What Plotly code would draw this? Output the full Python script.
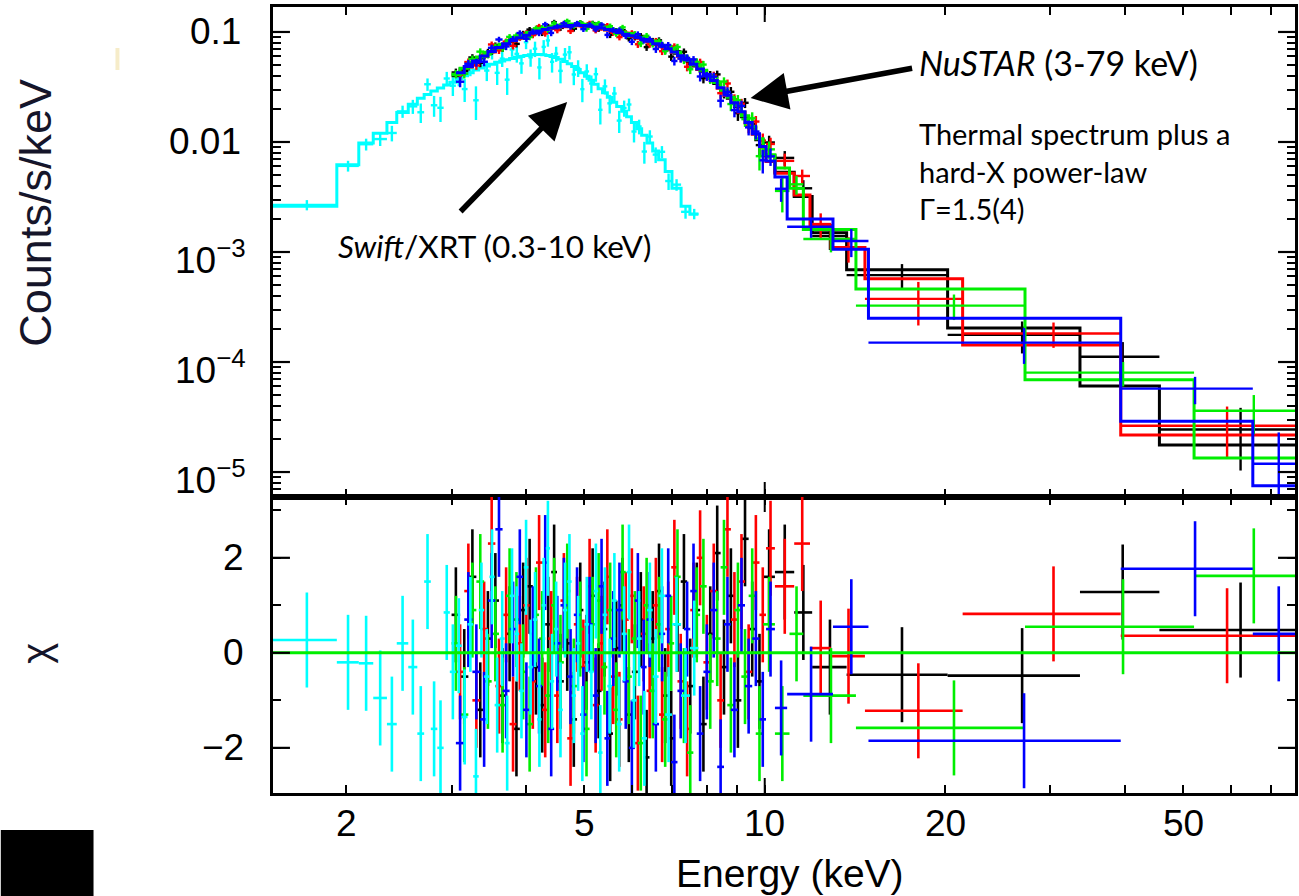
import math
import plotly.graph_objects as go

# ---------------- data ----------------
# Swift/XRT spectrum: bin edges (keV), folded model (counts/s/keV), relative errors, chi residuals
swift_edges = [1.51, 1.93, 2.10, 2.22, 2.34, 2.43, 2.54, 2.63, 2.70, 2.77,
               2.84, 2.91, 2.98, 3.05, 3.12, 3.19, 3.26, 3.33, 3.40, 3.47,
               3.54, 3.61, 3.68, 3.75, 3.82, 3.89, 3.96, 4.03, 4.10, 4.17,
               4.24, 4.31, 4.38, 4.45, 4.52, 4.60, 4.68, 4.76, 4.84, 4.92,
               5.00, 5.09, 5.18, 5.27, 5.36, 5.46, 5.56, 5.66, 5.77, 5.88,
               5.99, 6.11, 6.23, 6.36, 6.50, 6.65, 6.82, 7.00, 7.25, 7.50,
               7.75]
swift_model = [2.6e-3, 6.2e-3, 9.8e-3, 1.2e-2, 1.5e-2, 1.85e-2, 2.2e-2, 2.5e-2, 2.7e-2, 2.9e-2,
               3.1e-2, 3.3e-2, 3.5e-2, 3.75e-2, 4.0e-2, 4.25e-2, 4.5e-2, 4.7e-2, 4.9e-2, 5.1e-2,
               5.3e-2, 5.45e-2, 5.6e-2, 5.75e-2, 5.9e-2, 6.0e-2, 6.1e-2, 6.2e-2, 6.25e-2, 6.25e-2,
               6.2e-2, 6.1e-2, 6.0e-2, 5.85e-2, 5.65e-2, 5.4e-2, 5.15e-2, 4.85e-2, 4.55e-2, 4.25e-2,
               3.95e-2, 3.65e-2, 3.35e-2, 3.05e-2, 2.8e-2, 2.55e-2, 2.3e-2, 2.1e-2, 1.9e-2, 1.7e-2,
               1.5e-2, 1.32e-2, 1.15e-2, 9.8e-3, 8.3e-3, 6.9e-3, 5.4e-3, 3.8e-3, 2.6e-3, 2.2e-3]
swift_relerr = [0.11, 0.11, 0.12, 0.12, 0.13, 0.13, 0.14, 0.15, 0.16, 0.16,
                0.17, 0.17, 0.18, 0.17, 0.18, 0.17, 0.18, 0.17, 0.18, 0.17,
                0.18, 0.17, 0.18, 0.17, 0.18, 0.17, 0.18, 0.17, 0.18, 0.17,
                0.18, 0.17, 0.18, 0.17, 0.18, 0.17, 0.18, 0.17, 0.18, 0.17,
                0.18, 0.17, 0.18, 0.17, 0.18, 0.17, 0.18, 0.17, 0.18, 0.17,
                0.17, 0.16, 0.16, 0.16, 0.15, 0.15, 0.14, 0.13, 0.12, 0.11]
swift_chi = [0.27, -0.2, -0.22, -0.95, -1.5, 0.2, -0.3, -1.7, 1.5, -1.6,
             -2.0, 0.85, -0.4, 0.15, -1.35, 0.6, -2.6, 0.9, -0.5, 1.6,
             -1.1, 0.3, -1.9, 1.2, 0.4, -0.8, 1.8, -0.3, 0.7, -1.4,
             1.0, 2.2, -0.6, 0.5, -1.2, 0.9, 1.5, -0.9, 0.2, -1.7,
             0.6, -0.4, 1.3, -2.1, 0.8, -0.7, 1.1, -1.5, 0.4, 1.7,
             -1.0, 0.3, -1.8, 0.9, -0.5, 1.2, -1.3, 0.6, -0.9, 0.1]

# NuSTAR fine binning 3-10.4 keV: grid A (black, green) and grid B (red, blue)
nu_edges_a = [3.00, 3.10, 3.20, 3.30, 3.40, 3.50, 3.60, 3.70, 3.80, 3.90,
              4.00, 4.10, 4.20, 4.30, 4.40, 4.50, 4.62, 4.74, 4.86, 4.98,
              5.10, 5.22, 5.34, 5.46, 5.58, 5.72, 5.86, 6.00, 6.14, 6.28,
              6.42, 6.58, 6.74, 6.90, 7.06, 7.24, 7.42, 7.60, 7.80, 8.00,
              8.22, 8.44, 8.66, 8.90, 9.14, 9.40, 9.66, 9.94, 10.40]
nu_model_a = [0.040, 0.046, 0.052, 0.058, 0.064, 0.070, 0.076, 0.082, 0.087, 0.092,
              0.097, 0.101, 0.105, 0.108, 0.111, 0.113, 0.115, 0.116, 0.116, 0.115,
              0.113, 0.111, 0.108, 0.105, 0.102, 0.098, 0.095, 0.092, 0.088, 0.085,
              0.081, 0.077, 0.073, 0.069, 0.064, 0.059, 0.054, 0.049, 0.044, 0.039,
              0.034, 0.029, 0.025, 0.021, 0.017, 0.0135, 0.0105, 0.0075]
nu_edges_b = [3.05, 3.15, 3.25, 3.35, 3.45, 3.55, 3.65, 3.75, 3.85, 3.95,
              4.05, 4.15, 4.25, 4.35, 4.45, 4.56, 4.68, 4.80, 4.92, 5.04,
              5.16, 5.28, 5.40, 5.52, 5.65, 5.79, 5.93, 6.07, 6.21, 6.35,
              6.50, 6.66, 6.82, 6.98, 7.15, 7.33, 7.51, 7.70, 7.90, 8.11,
              8.33, 8.55, 8.78, 9.02, 9.27, 9.53, 9.80, 10.05, 10.40]
nu_model_b = [0.043, 0.049, 0.055, 0.061, 0.067, 0.073, 0.079, 0.0845, 0.0895, 0.0945,
              0.099, 0.103, 0.1065, 0.1095, 0.112, 0.114, 0.1155, 0.116, 0.1155, 0.114,
              0.112, 0.1095, 0.1065, 0.1035, 0.100, 0.0965, 0.0935, 0.090, 0.0865, 0.083,
              0.079, 0.075, 0.071, 0.0665, 0.0615, 0.0565, 0.0515, 0.0465, 0.0415, 0.0365,
              0.0315, 0.027, 0.023, 0.019, 0.0152, 0.012, 0.0092, 0.0068]
nu_relerr = [0.09, 0.085, 0.08, 0.08, 0.075, 0.07, 0.07, 0.065, 0.065, 0.06,
             0.06, 0.06, 0.06, 0.06, 0.06, 0.06, 0.055, 0.055, 0.055, 0.055,
             0.055, 0.055, 0.06, 0.06, 0.06, 0.06, 0.06, 0.065, 0.065, 0.065,
             0.07, 0.07, 0.07, 0.075, 0.075, 0.08, 0.08, 0.085, 0.09, 0.095,
             0.10, 0.11, 0.12, 0.13, 0.14, 0.16, 0.18, 0.20]
nu_const_black = 1.00
nu_const_red = 0.98
nu_const_green = 1.02
nu_const_blue = 0.99

chi_black = [0.8, -0.5, 1.6, -1.2, 0.3, 1.1, -0.9, 0.4, -1.6, 0.9,
             1.4, -0.3, -1.1, 0.6, 1.7, -0.6, 0.2, -1.4, 0.9, -0.2,
             1.2, -0.8, 0.5, -1.7, 0.1, 1.0, -1.3, -0.4, 0.7, -2.2,
             0.3, 1.3, -0.9, -1.8, 0.6, 1.5, -0.7, 0.9, -1.5, 0.4,
             2.1, -0.3, 1.2, -1.0, 2.4, 0.5, -0.6, 1.6]
chi_red = [-0.4, 1.3, -1.0, 0.5, 2.3, -0.7, 0.8, -1.5, 0.2, 1.0,
           -0.6, 1.9, -1.2, 0.3, -0.9, 1.1, -1.8, 0.6, -0.3, 1.4,
           -1.1, 0.2, 1.6, -0.5, -1.4, 0.7, 1.2, -1.9, 0.4, -0.8,
           1.0, -1.3, 0.5, 1.8, -0.6, -1.6, 0.9, 2.0, -0.2, 1.3,
           -1.0, 2.6, 0.7, 1.5, -0.4, 1.9, 0.8, 2.2]
chi_green = [0.2, -1.3, 0.9, 1.5, -0.6, 0.4, -1.1, 1.2, 0.7, -0.4,
             -1.5, 0.8, 0.3, -0.9, 1.0, -0.2, 1.3, -0.7, 0.5, -1.6,
             0.6, 1.1, -0.3, 0.9, -1.2, 1.7, -0.5, 0.3, -1.9, 1.0,
             -0.8, 0.6, -1.4, 0.2, 1.6, -0.9, -2.1, 0.8, 1.4, -0.6,
             0.3, 1.8, -1.1, 0.9, -0.5, 1.2, -1.7, 0.6]
chi_blue = [-1.9, 0.7, -0.4, -1.4, 1.1, 2.6, -0.8, 0.5, 1.6, -1.2,
            0.4, -0.7, 1.9, -1.6, 0.2, 1.0, -0.5, 0.8, -1.3, 0.6,
            -0.9, 1.4, -1.8, 0.3, 0.9, -0.6, -2.0, 1.1, -0.3, 0.7,
            -1.5, 0.4, 1.2, -2.3, -0.8, 0.5, 1.3, -1.7, -0.4, 0.9,
            -2.4, 0.6, -1.2, 1.0, -0.7, 0.3, -1.4, 0.5]

# NuSTAR wide high-energy bins (per module)
bk_hi_edges = [10.4, 11.2, 12.0, 13.7, 20.2, 33.6, 45.6, 79.0]
bk_hi_model = [5.3e-3, 3.2e-3, 1.5e-3, 6.9e-4, 2.04e-4, 6.05e-5, 1.76e-5]
bk_hi_err = [1.1e-3, 7.0e-4, 3.5e-4, 1.6e-4, 5.7e-5, 4.0e-5, 1.4e-5]
bk_hi_chi = [1.7, 0.85, -0.3, -0.46, -0.48, 1.28, 0.48]

rd_hi_edges = [10.4, 11.2, 11.9, 12.9, 14.7, 21.4, 39.3, 79.0]
rd_hi_model = [5.2e-3, 3.3e-3, 1.75e-3, 1.1e-3, 5.7e-4, 1.43e-4, 2.17e-5]
rd_hi_err = [1.1e-3, 7.0e-4, 4.5e-4, 2.8e-4, 1.6e-4, 4.7e-5, 1.3e-5]
rd_hi_chi = [1.4, 2.3, 0.1, -0.07, -1.22, 0.82, 0.36]

gn_hi_edges = [10.4, 11.0, 11.6, 14.2, 27.2, 52.1, 79.0]
gn_hi_model = [5.8e-3, 3.8e-3, 1.6e-3, 4.6e-4, 6.9e-5, 1.34e-5]
gn_hi_err = [1.3e-3, 8.0e-4, 3.2e-4, 8.5e-5, 2.0e-5, 1.4e-5]
gn_hi_chi = [-1.7, 0.4, -0.9, -1.58, 0.55, 1.62]

bl_hi_edges = [10.4, 10.9, 13.0, 14.9, 39.3, 65.3, 79.0]
bl_hi_model = [4.8e-3, 2.0e-3, 1.06e-3, 2.5e-4, 2.9e-5, 7.5e-6]
bl_hi_err = [9.0e-4, 3.5e-4, 3.6e-4, 5.4e-5, 1.6e-5, 1.1e-5]
bl_hi_chi = [-1.16, -0.87, 0.55, -1.85, 1.77, 0.40]

# axis ticks and tick labels
x_tick_vals = [2, 3, 4, 5, 6, 7, 8, 9, 10, 20, 30, 40, 50, 60, 70]
x_label_vals = [2, 5, 10, 20, 50]
x_label_text = ["2", "5", "10", "20", "50"]
y_major_vals = [1e-5, 1e-4, 1e-3, 0.01, 0.1]
y_major_text = ["10<sup>\u22125</sup>", "10<sup>\u22124</sup>", "10<sup>\u22123</sup>", "0.01", "0.1"]
chi_major_vals = [-2, 0, 2]
chi_major_text = ["\u22122", "0", "2"]
chi_minor_vals = [-1, 1, 3]

# ---------------- layout geometry ----------------
W, H = 1299, 896
ML, MR, MT, MB = 273, 1, 7, 103
PW = W - ML - MR
PH = H - MT - MB
SPLIT_PX = 497
dom_split = (H - MB - SPLIT_PX) / PH

x_range = [math.log10(1.51), math.log10(76.8)]
y_top_range = [-5.227, -0.773]
y_bot_range = [-2.95, 3.28]

BLACK, RED, GREEN, BLUE, CYAN = "#000000", "#ff0000", "#00ee00", "#0000ff", "#00ffff"

fig = go.Figure()


def bin_centers(edges):
    return [(a + b) / 2 for a, b in zip(edges[:-1], edges[1:])]


def build(edges_lo, model_lo, relerr_lo, const, chi_lo, hi_edges, hi_model, hi_err, hi_chi):
    model = [const * m for m in model_lo] + list(hi_model)
    err = [const * m * r for m, r in zip(model_lo, relerr_lo)] + list(hi_err)
    edges = list(edges_lo) + list(hi_edges[1:])
    chi = list(chi_lo) + list(hi_chi)
    return edges, model, err, chi


def add_top(edges, model, err, chi, color, lw_data=2.4, lw_model=3):
    c = bin_centers(edges)
    em = [ci - lo for ci, lo in zip(c, edges[:-1])]
    ep = [hi - ci for ci, hi in zip(c, edges[1:])]
    data = [m + k * e for m, k, e in zip(model, chi, err)]
    fig.add_trace(go.Scatter(
        x=c, y=data, mode="markers", marker=dict(size=1, color=color),
        error_x=dict(type="data", symmetric=False, array=ep, arrayminus=em,
                     color=color, thickness=lw_data, width=0),
        error_y=dict(type="data", array=err, color=color, thickness=lw_data, width=0),
        xaxis="x", yaxis="y", hoverinfo="skip", showlegend=False))
    fig.add_trace(go.Scatter(
        x=edges, y=list(model) + [model[-1]], mode="lines",
        line=dict(color=color, width=lw_model, shape="hv"),
        xaxis="x", yaxis="y", hoverinfo="skip", showlegend=False))


def add_bottom(edges, chi, color, lw=2.6):
    c = bin_centers(edges)
    em = [ci - lo for ci, lo in zip(c, edges[:-1])]
    ep = [hi - ci for ci, hi in zip(c, edges[1:])]
    fig.add_trace(go.Scatter(
        x=c, y=chi, mode="markers", marker=dict(size=1, color=color),
        error_x=dict(type="data", symmetric=False, array=ep, arrayminus=em,
                     color=color, thickness=lw, width=0),
        error_y=dict(type="constant", value=1, color=color, thickness=lw, width=0),
        xaxis="x2", yaxis="y2", hoverinfo="skip", showlegend=False))


sw_err = [m * r for m, r in zip(swift_model, swift_relerr)]
series = [
    (build(nu_edges_a, nu_model_a, nu_relerr, nu_const_black, chi_black, bk_hi_edges, bk_hi_model, bk_hi_err, bk_hi_chi), BLACK),
    (build(nu_edges_b, nu_model_b, nu_relerr, nu_const_red, chi_red, rd_hi_edges, rd_hi_model, rd_hi_err, rd_hi_chi), RED),
    (build(nu_edges_a, nu_model_a, nu_relerr, nu_const_green, chi_green, gn_hi_edges, gn_hi_model, gn_hi_err, gn_hi_chi), GREEN),
    (build(nu_edges_b, nu_model_b, nu_relerr, nu_const_blue, chi_blue, bl_hi_edges, bl_hi_model, bl_hi_err, bl_hi_chi), BLUE),
]

# top panel
add_top(swift_edges, swift_model, sw_err, swift_chi, CYAN)
for (edges, model, err, chi), col in series:
    add_top(edges, model, err, chi, col)

# residual panel
for (edges, model, err, chi), col in series:
    add_bottom(edges, chi, col)
add_bottom(swift_edges, swift_chi, CYAN)

x_axis_common = dict(showline=True, linecolor="black", linewidth=2.5, mirror="allticks",
                     ticks="inside", tickcolor="black", tickwidth=2, ticklen=8,
                     showgrid=False, zeroline=False, showticklabels=False,
                     type="log", range=x_range, tickvals=x_tick_vals)

# y ticks: all values short (minor), labelled ones get extra long marks drawn as shapes
y_top_all = [k * 10 ** e for e in range(-6, 0) for k in range(1, 10)]
chi_all = sorted(chi_major_vals + chi_minor_vals)
y_axis_common = dict(showline=True, linecolor="black", linewidth=2.5, mirror="allticks",
                     ticks="inside", ticklen=8, tickwidth=1.8, tickcolor="black",
                     showgrid=False, zeroline=False, showticklabels=False)

fig.update_layout(
    width=W, height=H,
    margin=dict(l=ML, r=MR, t=MT, b=MB, pad=0),
    paper_bgcolor="white", plot_bgcolor="white",
    showlegend=False, hovermode=False,
    xaxis=dict(domain=[0, 1], anchor="y", **x_axis_common),
    xaxis2=dict(domain=[0, 1], anchor="y2", **x_axis_common),
    yaxis=dict(domain=[dom_split, 1], anchor="x", type="log", range=y_top_range,
               tickvals=y_top_all, **y_axis_common),
    yaxis2=dict(domain=[0, dom_split], anchor="x2", range=y_bot_range,
                tickvals=chi_all, **y_axis_common),
)


def px(xp):
    return (xp - ML) / PW


def py(yp):
    return (H - MB - yp) / PH


def top_paper(v):
    return dom_split + (math.log10(v) - y_top_range[0]) / (y_top_range[1] - y_top_range[0]) * (1 - dom_split)


def bot_paper(v):
    return (v - y_bot_range[0]) / (y_bot_range[1] - y_bot_range[0]) * dom_split


shapes = []
# zero line of residual panel
shapes.append(dict(type="line", xref="x2 domain", yref="y2", x0=0, x1=1, y0=0, y1=0,
                   line=dict(color=GREEN, width=3), layer="above"))
# longer decade tick at 10 keV on the four horizontal edges
px10 = (1 - x_range[0]) / (x_range[1] - x_range[0])
L = 15 / PH
for ya, yb in [(1 - L, 1), (dom_split, dom_split + L), (dom_split - L, dom_split), (0, L)]:
    shapes.append(dict(type="line", xref="paper", yref="paper", x0=px10, x1=px10, y0=ya, y1=yb,
                       line=dict(color="black", width=2), layer="above"))
# long y ticks at the labelled values (both sides)
LMAJ = 17 / PW
for yp in [top_paper(v) for v in y_major_vals] + [bot_paper(v) for v in chi_major_vals]:
    for xa, xb in [(0, LMAJ), (1 - LMAJ, 1)]:
        shapes.append(dict(type="line", xref="paper", yref="paper", x0=xa, x1=xb, y0=yp, y1=yp,
                           line=dict(color="black", width=2.2), layer="above"))
# black box bottom-left and small pale fleck (artefacts of the reference image)
shapes.append(dict(type="rect", xref="paper", yref="paper",
                   x0=(0 - ML) / PW, x1=(93 - ML) / PW,
                   y0=(H - MB - 896) / PH, y1=(H - MB - 830) / PH,
                   fillcolor="black", line=dict(width=0), layer="above"))
shapes.append(dict(type="rect", xref="paper", yref="paper",
                   x0=(115 - ML) / PW, x1=(119 - ML) / PW,
                   y0=(H - MB - 70) / PH, y1=(H - MB - 48) / PH,
                   fillcolor="#f6ecc9", line=dict(width=0), layer="above"))
fig.update_layout(shapes=shapes)

tick_font = dict(family="Liberation Sans, Arial, sans-serif", size=37, color="black")
annotations = []
# y tick labels (top panel)
for v, t in zip(y_major_vals, y_major_text):
    is_pow = "sup" in t
    annotations.append(dict(text=t, x=px(248 if is_pow else 243), y=top_paper(v),
                            xref="paper", yref="paper", showarrow=False,
                            xanchor="right", yanchor="middle", yshift=-5 if is_pow else 0,
                            font=tick_font))
# y tick labels (residual panel)
for v, t in zip(chi_major_vals, chi_major_text):
    annotations.append(dict(text=t, x=px(246), y=bot_paper(v), xref="paper", yref="paper",
                            showarrow=False, xanchor="right", yanchor="middle", font=tick_font))
# x tick labels
for v, t in zip(x_label_vals, x_label_text):
    xp = (math.log10(v) - x_range[0]) / (x_range[1] - x_range[0])
    annotations.append(dict(text=t, x=xp, y=py(823), xref="paper", yref="paper",
                            showarrow=False, xanchor="center", yanchor="middle", font=tick_font))

ann_font = dict(family="Lato, Open Sans, sans-serif", size=29, color="black")
annotations += [
    dict(text="Counts/s/keV", x=px(35), y=py(213), xref="paper", yref="paper",
         textangle=-90, showarrow=False, xanchor="center", yanchor="middle",
         font=dict(family="Liberation Sans, Arial, sans-serif", size=45, color="#15152a")),
    dict(text="\u03c7", x=px(35), y=py(653), xref="paper", yref="paper",
         textangle=-90, showarrow=False, xanchor="center", yanchor="middle",
         font=dict(family="Liberation Sans, Arial, sans-serif", size=40, color="#15152a")),
    dict(text="Energy (keV)", x=px(792), y=py(873), xref="paper", yref="paper",
         showarrow=False, xanchor="center", yanchor="middle",
         font=dict(family="Liberation Sans, Arial, sans-serif", size=39, color="black")),
    dict(text="<i>NuSTAR</i> (3-79 keV)", x=px(919), y=py(63), xref="paper", yref="paper",
         showarrow=False, xanchor="left", yanchor="middle",
         font=dict(family="Lato, Open Sans, sans-serif", size=34, color="black")),
    dict(text="Thermal spectrum plus a<br>hard-X power-law<br>\u0393=1.5(4)",
         x=px(919), y=py(171), xref="paper", yref="paper", align="left",
         showarrow=False, xanchor="left", yanchor="middle", font=ann_font),
    dict(text="<i>Swift</i>/XRT (0.3-10 keV)", x=px(336), y=py(246), xref="paper", yref="paper",
         showarrow=False, xanchor="left", yanchor="middle",
         font=dict(family="Lato, Open Sans, sans-serif", size=31.5, color="black")),
    # arrows
    dict(text="", x=px(568), y=py(102), xref="paper", yref="paper", showarrow=True,
         ax=-108, ay=111, arrowhead=2, arrowsize=1.35, arrowwidth=5.5, arrowcolor="black"),
    dict(text="", x=px(752), y=py(98), xref="paper", yref="paper", showarrow=True,
         ax=163, ay=-30, arrowhead=2, arrowsize=1.35, arrowwidth=5.5, arrowcolor="black"),
]
fig.update_layout(annotations=annotations)

fig.write_html("out.html")
